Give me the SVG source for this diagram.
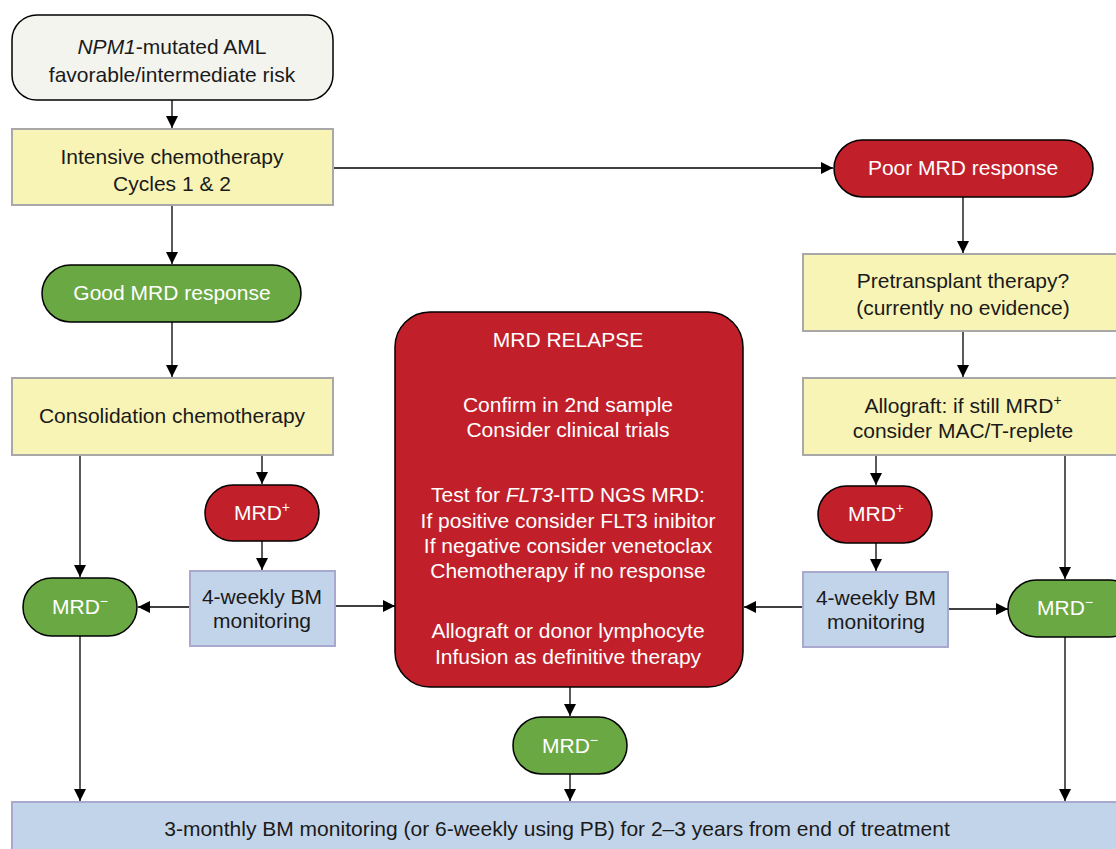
<svg xmlns="http://www.w3.org/2000/svg" width="1116" height="849" viewBox="0 0 1116 849">
<defs>
<marker id="ah" viewBox="0 0 10 10" refX="10" refY="5" markerWidth="12" markerHeight="12" markerUnits="userSpaceOnUse" orient="auto">
<path d="M0,0 L10,5 L0,10 z" fill="#000"/>
</marker>
<style>
text{font-family:"Liberation Sans",Arial,sans-serif;font-size:21px;text-anchor:middle;fill:#1a1a1a}
.w{fill:#fff}
.red{fill:#c1202a;stroke:#000;stroke-width:1.5}
.green{fill:#6aa843;stroke:#000;stroke-width:1.5}
.yellow{fill:#f8f4b5;stroke:#a8a8a8;stroke-width:2}
.blue{fill:#c2d4e9;stroke:#a9a9cf;stroke-width:2}
.start{fill:#f4f4ef;stroke:#000;stroke-width:1.5}
#connectors line{stroke:#000;stroke-width:1.3;marker-end:url(#ah)}
</style>
</defs>
<rect width="1116" height="849" fill="#fff"/>

<g id="connectors">
<line x1="172" y1="100" x2="172" y2="128"/>
<line x1="333" y1="168" x2="833" y2="168"/>
<line x1="963" y1="197" x2="963" y2="253"/>
<line x1="963" y1="331" x2="963" y2="377"/>
<line x1="172" y1="205" x2="172" y2="264"/>
<line x1="172" y1="322" x2="172" y2="377"/>
<line x1="80" y1="455" x2="80" y2="577"/>
<line x1="262" y1="455" x2="262" y2="484"/>
<line x1="262" y1="541" x2="262" y2="570"/>
<line x1="190" y1="607" x2="138" y2="607"/>
<line x1="336" y1="606" x2="395" y2="606"/>
<line x1="876" y1="455" x2="876" y2="485"/>
<line x1="876" y1="543" x2="876" y2="571"/>
<line x1="803" y1="607" x2="744" y2="607"/>
<line x1="948" y1="609" x2="1008" y2="609"/>
<line x1="1065" y1="455" x2="1065" y2="579"/>
<line x1="570" y1="687" x2="570" y2="716"/>
<line x1="570" y1="774" x2="570" y2="801"/>
<line x1="80" y1="636" x2="80" y2="801"/>
<line x1="1065" y1="637" x2="1065" y2="801"/>
</g>

<g id="start">
<rect class="start" x="12" y="15" width="321" height="85" rx="25"/>
<text x="172" y="54"><tspan font-style="italic">NPM1</tspan>-mutated AML</text>
<text x="172" y="82">favorable/intermediate risk</text>
</g>

<g id="intensive">
<rect class="yellow" x="12" y="129" width="321" height="76"/>
<text x="172" y="164">Intensive chemotherapy</text>
<text x="172" y="191">Cycles 1 &amp; 2</text>
</g>

<g id="poor">
<rect class="red" x="834" y="140" width="259" height="57" rx="28.5"/>
<text class="w" x="963" y="175">Poor MRD response</text>
</g>

<g id="pretransplant">
<rect class="yellow" x="803" y="254" width="316" height="77"/>
<text x="963" y="288">Pretransplant therapy?</text>
<text x="963" y="315">(currently no evidence)</text>
</g>

<g id="allograft">
<rect class="yellow" x="803" y="378" width="316" height="77"/>
<text x="963" y="413">Allograft: if still MRD<tspan font-size="14" dy="-8">+</tspan></text>
<text x="963" y="438">consider MAC/T-replete</text>
</g>

<g id="good">
<rect class="green" x="42" y="265" width="259" height="57" rx="28.5"/>
<text class="w" x="172" y="300">Good MRD response</text>
</g>

<g id="consolidation">
<rect class="yellow" x="12" y="378" width="321" height="77"/>
<text x="172" y="423">Consolidation chemotherapy</text>
</g>

<g id="mrdplus-left">
<rect class="red" x="205" y="485" width="114" height="56" rx="28"/>
<text class="w" x="262" y="520">MRD<tspan font-size="14" dy="-8">+</tspan></text>
</g>

<g id="monitor-left">
<rect class="blue" x="190" y="571" width="145" height="75"/>
<text x="262" y="604">4-weekly BM</text>
<text x="262" y="628">monitoring</text>
</g>

<g id="mrdminus-left">
<rect class="green" x="23" y="578" width="114" height="58" rx="29"/>
<text class="w" x="80" y="614">MRD<tspan font-size="14" dy="-8">−</tspan></text>
</g>

<g id="relapse">
<rect class="red" x="395" y="312" width="348" height="375" rx="35"/>
<text class="w" x="568" y="347">MRD RELAPSE</text>
<text class="w" x="568" y="412">Confirm in 2nd sample</text>
<text class="w" x="568" y="437">Consider clinical trials</text>
<text class="w" x="568" y="502">Test for <tspan font-style="italic">FLT3</tspan>-ITD NGS MRD:</text>
<text class="w" x="568" y="528">If positive consider FLT3 inibitor</text>
<text class="w" x="568" y="553">If negative consider venetoclax</text>
<text class="w" x="568" y="578">Chemotherapy if no response</text>
<text class="w" x="568" y="638">Allograft or donor lymphocyte</text>
<text class="w" x="568" y="664">Infusion as definitive therapy</text>
</g>

<g id="mrdplus-right">
<rect class="red" x="818" y="486" width="114" height="57" rx="28.5"/>
<text class="w" x="876" y="521">MRD<tspan font-size="14" dy="-8">+</tspan></text>
</g>

<g id="monitor-right">
<rect class="blue" x="803" y="572" width="145" height="75"/>
<text x="876" y="605">4-weekly BM</text>
<text x="876" y="629">monitoring</text>
</g>

<g id="mrdminus-right">
<rect class="green" x="1008" y="580" width="130" height="57" rx="28.5"/>
<text class="w" x="1065" y="615">MRD<tspan font-size="14" dy="-8">−</tspan></text>
</g>

<g id="mrdminus-center">
<rect class="green" x="513" y="717" width="114" height="57" rx="28.5"/>
<text class="w" x="570" y="753">MRD<tspan font-size="14" dy="-8">−</tspan></text>
</g>

<g id="followup">
<rect class="blue" x="12" y="802" width="1110" height="60"/>
<text x="557" y="836" font-size="20">3-monthly BM monitoring (or 6-weekly using PB) for 2–3 years from end of treatment</text>
</g>
</svg>
